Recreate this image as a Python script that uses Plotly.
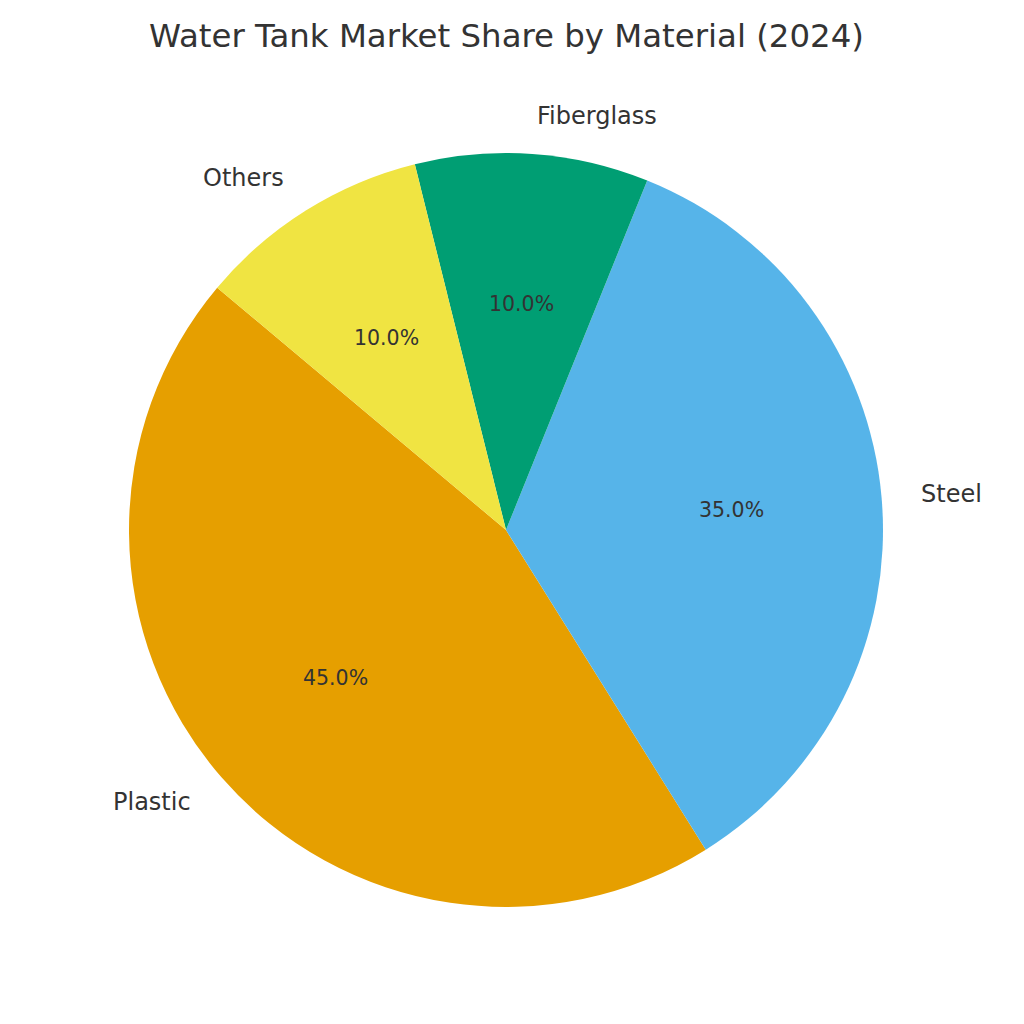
import math
import plotly.graph_objects as go

labels = ["Plastic", "Steel", "Fiberglass", "Others"]
shares = [45, 35, 10, 10]
colors = ["#E69F00", "#56B4E9", "#009E73", "#F0E442"]
title = "Water Tank Market Share by Material (2024)"

W = H = 1024
cx, cy, R = 506, 530, 377
start_deg = 140  # matplotlib-style start angle (counterclockwise from 3 o'clock)
font = "DejaVu Sans"
txt_color = "#333333"

total = sum(shares)
# plotly (counterclockwise): first slice occupies [rotation, rotation+v] measured clockwise from top
rotation = 90 - start_deg - 360 * shares[0] / total

fig = go.Figure(go.Pie(
    labels=labels, values=shares, sort=False, direction="counterclockwise",
    rotation=rotation, marker=dict(colors=colors, line=dict(width=0)),
    textinfo="none", hoverinfo="label+percent", showlegend=False,
    domain=dict(x=[(cx - R) / W, (cx + R) / W], y=[1 - (cy + R) / H, 1 - (cy - R) / H]),
))

ang = start_deg
annotations = []
for lab, v in zip(labels, shares):
    span = 360 * v / total
    mid = math.radians(ang + span / 2)
    ang += span
    c, s = math.cos(mid), math.sin(mid)
    px, py = cx + 0.6 * R * c, cy - 0.6 * R * s
    annotations.append(dict(x=px / W, y=1 - py / H, xref="paper", yref="paper",
                            text=f"{100 * v / total:.1f}%", showarrow=False,
                            xanchor="center", yanchor="middle",
                            font=dict(family=font, size=20.5, color=txt_color)))
    lx, ly = cx + 1.1 * R * c, cy - 1.1 * R * s
    annotations.append(dict(x=lx / W, y=1 - ly / H, xref="paper", yref="paper",
                            text=lab, showarrow=False,
                            xanchor="left" if c > 0 else "right", yanchor="middle",
                            font=dict(family=font, size=24, color=txt_color)))

annotations.append(dict(x=cx / W, y=1 - 36 / H, xref="paper", yref="paper", text=title,
                        showarrow=False, xanchor="center", yanchor="middle",
                        font=dict(family=font, size=32.4, color=txt_color)))

fig.update_layout(width=W, height=H, margin=dict(l=0, r=0, t=0, b=0),
                  paper_bgcolor="white", plot_bgcolor="white", annotations=annotations)
fig.write_html("out.html")
